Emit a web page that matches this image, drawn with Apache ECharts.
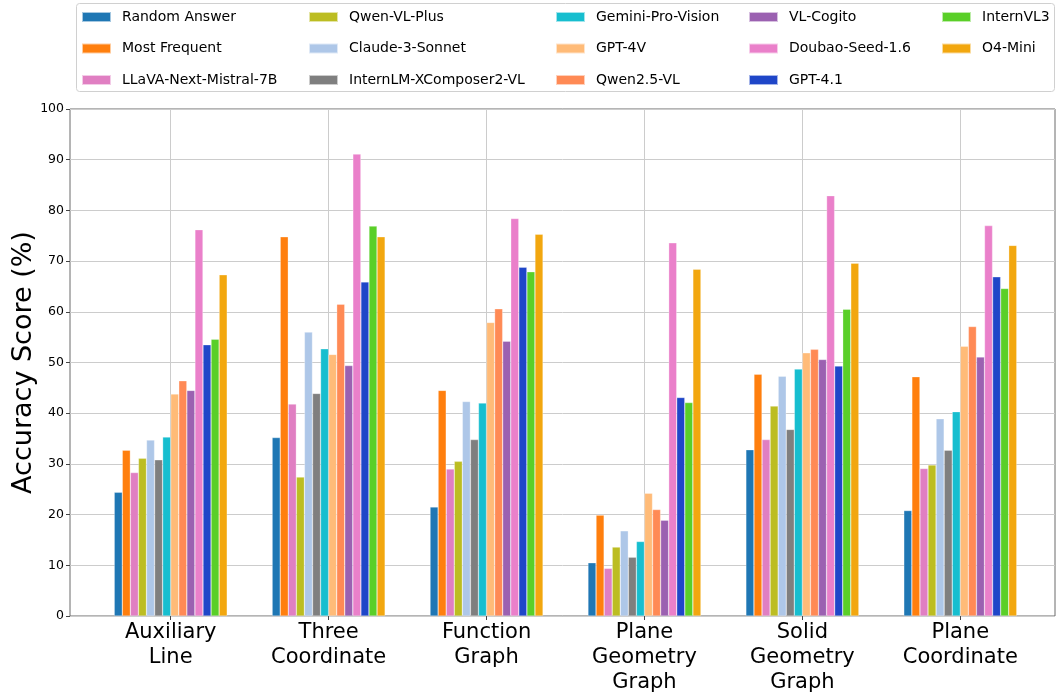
<!DOCTYPE html>
<html>
<head>
<meta charset="utf-8">
<script src="https://cdn.jsdelivr.net/npm/echarts@6/dist/echarts.min.js"></script>
<style>
html,body{margin:0;padding:0;background:#fff;}
#chart{width:1058px;height:696px;}
</style>
</head>
<body>
<div id="chart"></div>
<script>
const categories = ["Auxiliary\nLine", "Three\nCoordinate", "Function\nGraph", "Plane\nGeometry\nGraph", "Solid\nGeometry\nGraph", "Plane\nCoordinate"];
const yTicks = [0, 10, 20, 30, 40, 50, 60, 70, 80, 90, 100];

const randomAnswer   = [24.4, 35.2, 21.5, 10.5, 32.8, 20.8];
const mostFrequent   = [32.7, 74.8, 44.5, 19.9, 47.7, 47.2];
const llava          = [28.3, 41.8, 29.0, 9.4, 34.8, 29.1];
const qwenVLPlus     = [31.1, 27.4, 30.5, 13.6, 41.4, 29.8];
const claude3        = [34.7, 56.0, 42.3, 16.8, 47.3, 38.9];
const internLM       = [30.8, 43.9, 34.8, 11.6, 36.8, 32.7];
const geminiPro      = [35.3, 52.7, 42.0, 14.7, 48.7, 40.3];
const gpt4v          = [43.8, 51.6, 57.9, 24.2, 51.9, 53.2];
const qwen25VL       = [46.4, 61.5, 60.6, 21.0, 52.6, 57.1];
const vlCogito       = [44.5, 49.4, 54.2, 18.9, 50.6, 51.1];
const doubao         = [76.2, 91.1, 78.4, 73.6, 82.9, 77.0];
const gpt41          = [53.5, 65.9, 68.8, 43.1, 49.3, 66.9];
const internVL3      = [54.6, 76.9, 67.9, 42.1, 60.5, 64.6];
const o4mini         = [67.3, 74.8, 75.3, 68.4, 69.6, 73.1];

const seriesNames = ["Random Answer", "Most Frequent", "LLaVA-Next-Mistral-7B", "Qwen-VL-Plus", "Claude-3-Sonnet", "InternLM-XComposer2-VL", "Gemini-Pro-Vision", "GPT-4V", "Qwen2.5-VL", "VL-Cogito", "Doubao-Seed-1.6", "GPT-4.1", "InternVL3", "O4-Mini"];
const seriesValues = [randomAnswer, mostFrequent, llava, qwenVLPlus, claude3, internLM, geminiPro, gpt4v, qwen25VL, vlCogito, doubao, gpt41, internVL3, o4mini];
const colors = ["#1f77b4", "#ff7f0e", "#e07fc2", "#bcbd22", "#aec7e8", "#7f7f7f", "#17becf", "#ffbb78", "#ff8a55", "#9b61b1", "#ea80ca", "#1f46c8", "#5acf28", "#f2a70f"];

const FONT = "DejaVu Sans";
const chart = echarts.init(document.getElementById('chart'), null, {renderer: 'canvas'});

const legendCols = [[0,1,2],[3,4,5],[6,7,8],[9,10,11],[12,13]];
const legendLefts = [81, 308, 555, 748, 941];
const legends = legendCols.map((idxs, i) => ({
  orient: 'vertical',
  left: legendLefts[i],
  top: 9,
  padding: 0,
  itemWidth: 29,
  itemHeight: 10,
  itemGap: 15.5,
  icon: 'rect',
  selectedMode: false,
  data: idxs.map(k => seriesNames[k]),
  textStyle: {fontFamily: FONT, fontSize: 14, color: '#000', lineHeight: 16, padding: [0, 0, 0, 6]}
}));

const series = seriesNames.map((name, i) => ({
  name: name,
  type: 'bar',
  xAxisIndex: 1,
  yAxisIndex: 1,
  data: seriesValues[i],
  barWidth: 8.07,
  barGap: '0%',
  itemStyle: {color: colors[i], borderColor: 'rgba(255,255,255,0.6)', borderWidth: 0.5},
  emphasis: {disabled: true},
  animation: false
}));

const gridBase = {top: 109, bottom: 80, containLabel: false, outerBoundsMode: 'none'};

chart.setOption({
  animation: false,
  color: colors,
  graphic: [{
    type: 'rect',
    shape: {x: 76.5, y: 3.5, width: 978, height: 88, r: 3},
    style: {fill: '#fff', stroke: '#d0d0d0', lineWidth: 1},
    z: -1
  }],
  legend: legends,
  grid: [
    Object.assign({left: 70, right: 3, show: true, borderColor: '#6a6a6a', borderWidth: 1, backgroundColor: 'transparent'}, gridBase),
    Object.assign({left: 91.75, right: 18.75}, gridBase),
    Object.assign({left: 170.7, right: 97.7}, gridBase)
  ],
  xAxis: [
    {gridIndex: 0, type: 'value', min: 0, max: 1, show: false},
    {gridIndex: 1, type: 'category', data: categories, boundaryGap: true,
     axisLine: {show: false},
     axisTick: {show: true, alignWithLabel: true, length: 4, lineStyle: {color: '#444'}},
     axisLabel: {fontFamily: FONT, fontSize: 21, color: '#000', lineHeight: 25, margin: 4, interval: 0},
     splitLine: {show: false}},
    {gridIndex: 2, type: 'category', data: categories, boundaryGap: false,
     axisLine: {show: false}, axisTick: {show: false}, axisLabel: {show: false},
     splitLine: {show: true, lineStyle: {color: '#cccccc', width: 1}}}
  ],
  yAxis: [
    {gridIndex: 0, type: 'value', min: yTicks[0], max: yTicks[yTicks.length-1], interval: 10,
     name: 'Accuracy Score (%)', nameLocation: 'middle', nameGap: 33, nameMoveOverlap: false,
     nameTextStyle: {fontFamily: FONT, fontSize: 27, color: '#000'},
     axisLine: {show: false},
     axisTick: {show: true, length: 4, lineStyle: {color: '#444'}},
     axisLabel: {fontFamily: FONT, fontSize: 12.5, color: '#000', margin: 6},
     splitLine: {show: true, lineStyle: {color: '#cccccc', width: 1}}},
    {gridIndex: 1, type: 'value', min: 0, max: 100, show: false, splitLine: {show: false}},
    {gridIndex: 2, type: 'value', min: 0, max: 100, show: false, splitLine: {show: false}}
  ],
  series: series
});
</script>
</body>
</html>
